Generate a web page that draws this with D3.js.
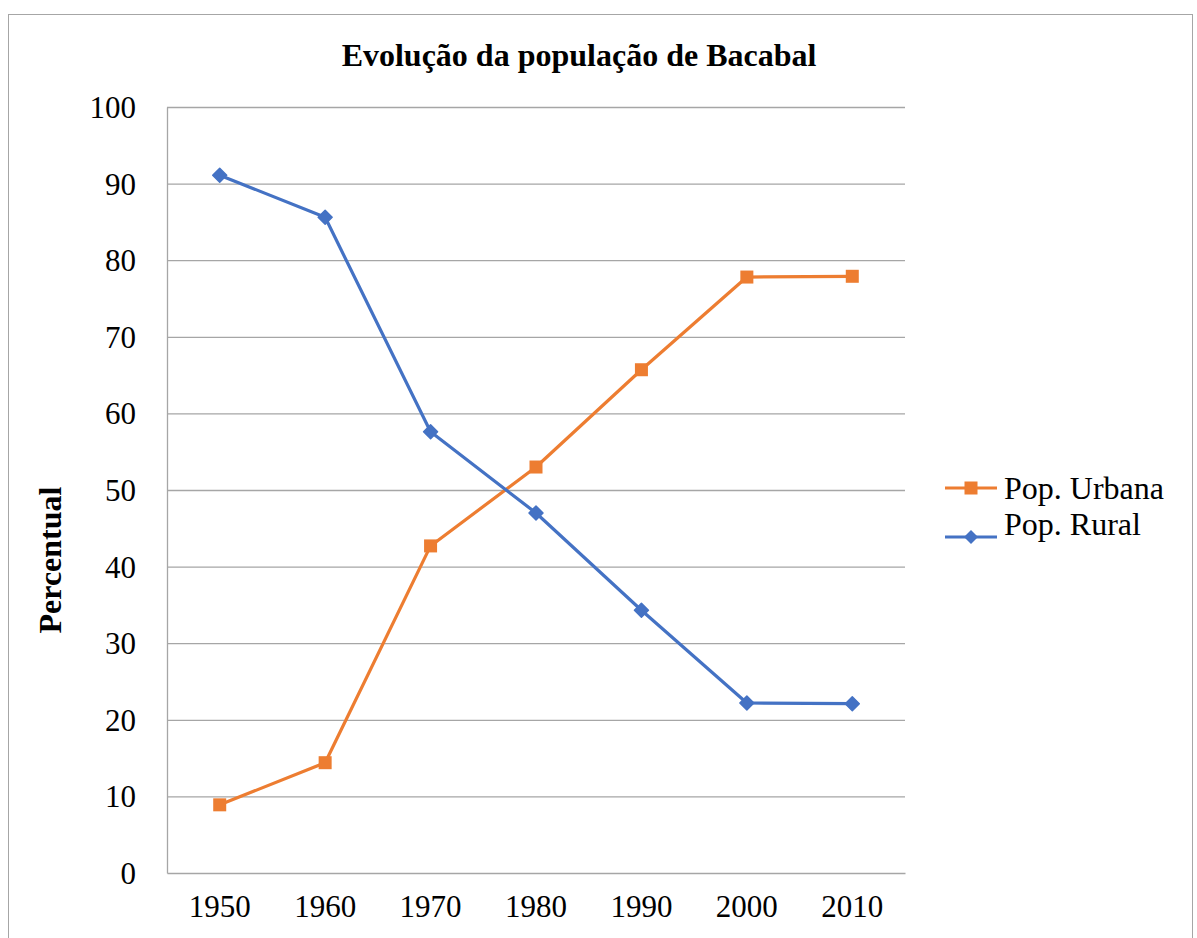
<!DOCTYPE html>
<html><head><meta charset="utf-8">
<script src="https://cdn.jsdelivr.net/npm/d3@7"></script>
<style>body{margin:0;background:#fff}svg{display:block}</style>
</head><body>
<svg id="c" width="1197" height="938"></svg>
<script>
const years = ["1950","1960","1970","1980","1990","2000","2010"];
const urbana = [8.9, 14.4, 42.7, 53.0, 65.7, 77.8, 77.9];
const rural = [91.1, 85.6, 57.6, 47.0, 34.3, 22.2, 22.1];
const yTicks = [0,10,20,30,40,50,60,70,80,90,100];
const seriesNames = ["Pop. Urbana","Pop. Rural"];
const colors = ["#ED7D31","#4472C4"];

const svg = d3.select("#c");
const font = "'Liberation Serif','Times New Roman',serif";
svg.append("rect").attr("x",8.5).attr("y",14.5).attr("width",1184).attr("height",940)
  .attr("fill","none").attr("stroke","#A6A6A6").attr("stroke-width",1);

const L=167, R=905, T=107, B=873;
const x = d3.scaleBand().domain(years).range([L,R]);
const y = d3.scaleLinear().domain([0,100]).range([B,T]);

const g = svg.append("g");
g.selectAll("line.grid").data(yTicks.filter(d=>d>0)).join("line")
  .attr("x1",L).attr("x2",R).attr("y1",d=>y(d)+0.5).attr("y2",d=>y(d)+0.5)
  .attr("stroke","#A6A6A6").attr("stroke-width",1.3);

const yAxis = d3.axisLeft(y).tickValues(yTicks).tickSize(0).tickPadding(31);
const ya = svg.append("g").attr("transform",`translate(${L},0)`).call(yAxis);
ya.select(".domain").attr("stroke","#A6A6A6").attr("stroke-width",1.3);
ya.selectAll("text").attr("font-family",font).attr("font-size",31).attr("fill","#000").attr("dy","0.34em");

const xAxis = d3.axisBottom(x).tickSize(0).tickPadding(22);
const xa = svg.append("g").attr("transform",`translate(0,${B})`).call(xAxis);
xa.select(".domain").attr("stroke","#A6A6A6").attr("stroke-width",1.3);
xa.selectAll("text").attr("font-family",font).attr("font-size",31).attr("fill","#000");

svg.append("text").attr("x",579).attr("y",66).attr("text-anchor","middle")
  .attr("font-family",font).attr("font-weight","bold").attr("font-size",32).text("Evolução da população de Bacabal");
svg.append("text").attr("transform","translate(61,560) rotate(-90)").attr("text-anchor","middle")
  .attr("font-family",font).attr("font-weight","bold").attr("font-size",32).text("Percentual");

const cx = d => x(d)+x.bandwidth()/2;
const line = d3.line().x(d=>cx(d[0])).y(d=>y(d[1]));
const data = [urbana, rural].map(arr => years.map((yr,i)=>[yr,arr[i]]));

data.forEach((pts,si)=>{
  svg.append("path").datum(pts).attr("d",line).attr("fill","none")
    .attr("stroke",colors[si]).attr("stroke-width",3.2).attr("stroke-linejoin","round");
});
const diamondPath = "M0,-7L7,0L0,7L-7,0Z";
svg.selectAll("rect.mu").data(data[0]).join("rect").attr("class","mu")
  .attr("x",d=>cx(d[0])-6.5).attr("y",d=>y(d[1])-6.5).attr("width",13).attr("height",13)
  .attr("fill",colors[0]);
svg.selectAll("path.mr").data(data[1]).join("path").attr("class","mr")
  .attr("transform",d=>`translate(${cx(d[0])},${y(d[1])})`).attr("d",diamondPath)
  .attr("fill",colors[1]).attr("stroke",colors[1]).attr("stroke-width",1.5).attr("stroke-linejoin","round");

const leg = svg.append("g");
const legY = [488, 537], textY = [488, 524];
seriesNames.forEach((n,i)=>{
  leg.append("line").attr("x1",945).attr("x2",997).attr("y1",legY[i]).attr("y2",legY[i])
    .attr("stroke",colors[i]).attr("stroke-width",3.2);
  if(i===0) leg.append("rect").attr("x",971-6.5).attr("y",legY[i]-6.5).attr("width",13).attr("height",13).attr("fill",colors[i]);
  else leg.append("path").attr("transform",`translate(971,${legY[i]})`).attr("d",diamondPath).attr("fill",colors[i]);
  leg.append("text").attr("x",1004).attr("y",textY[i]).attr("dy","0.34em")
    .attr("font-family",font).attr("font-size",32).text(n);
});
</script>
</body></html>
